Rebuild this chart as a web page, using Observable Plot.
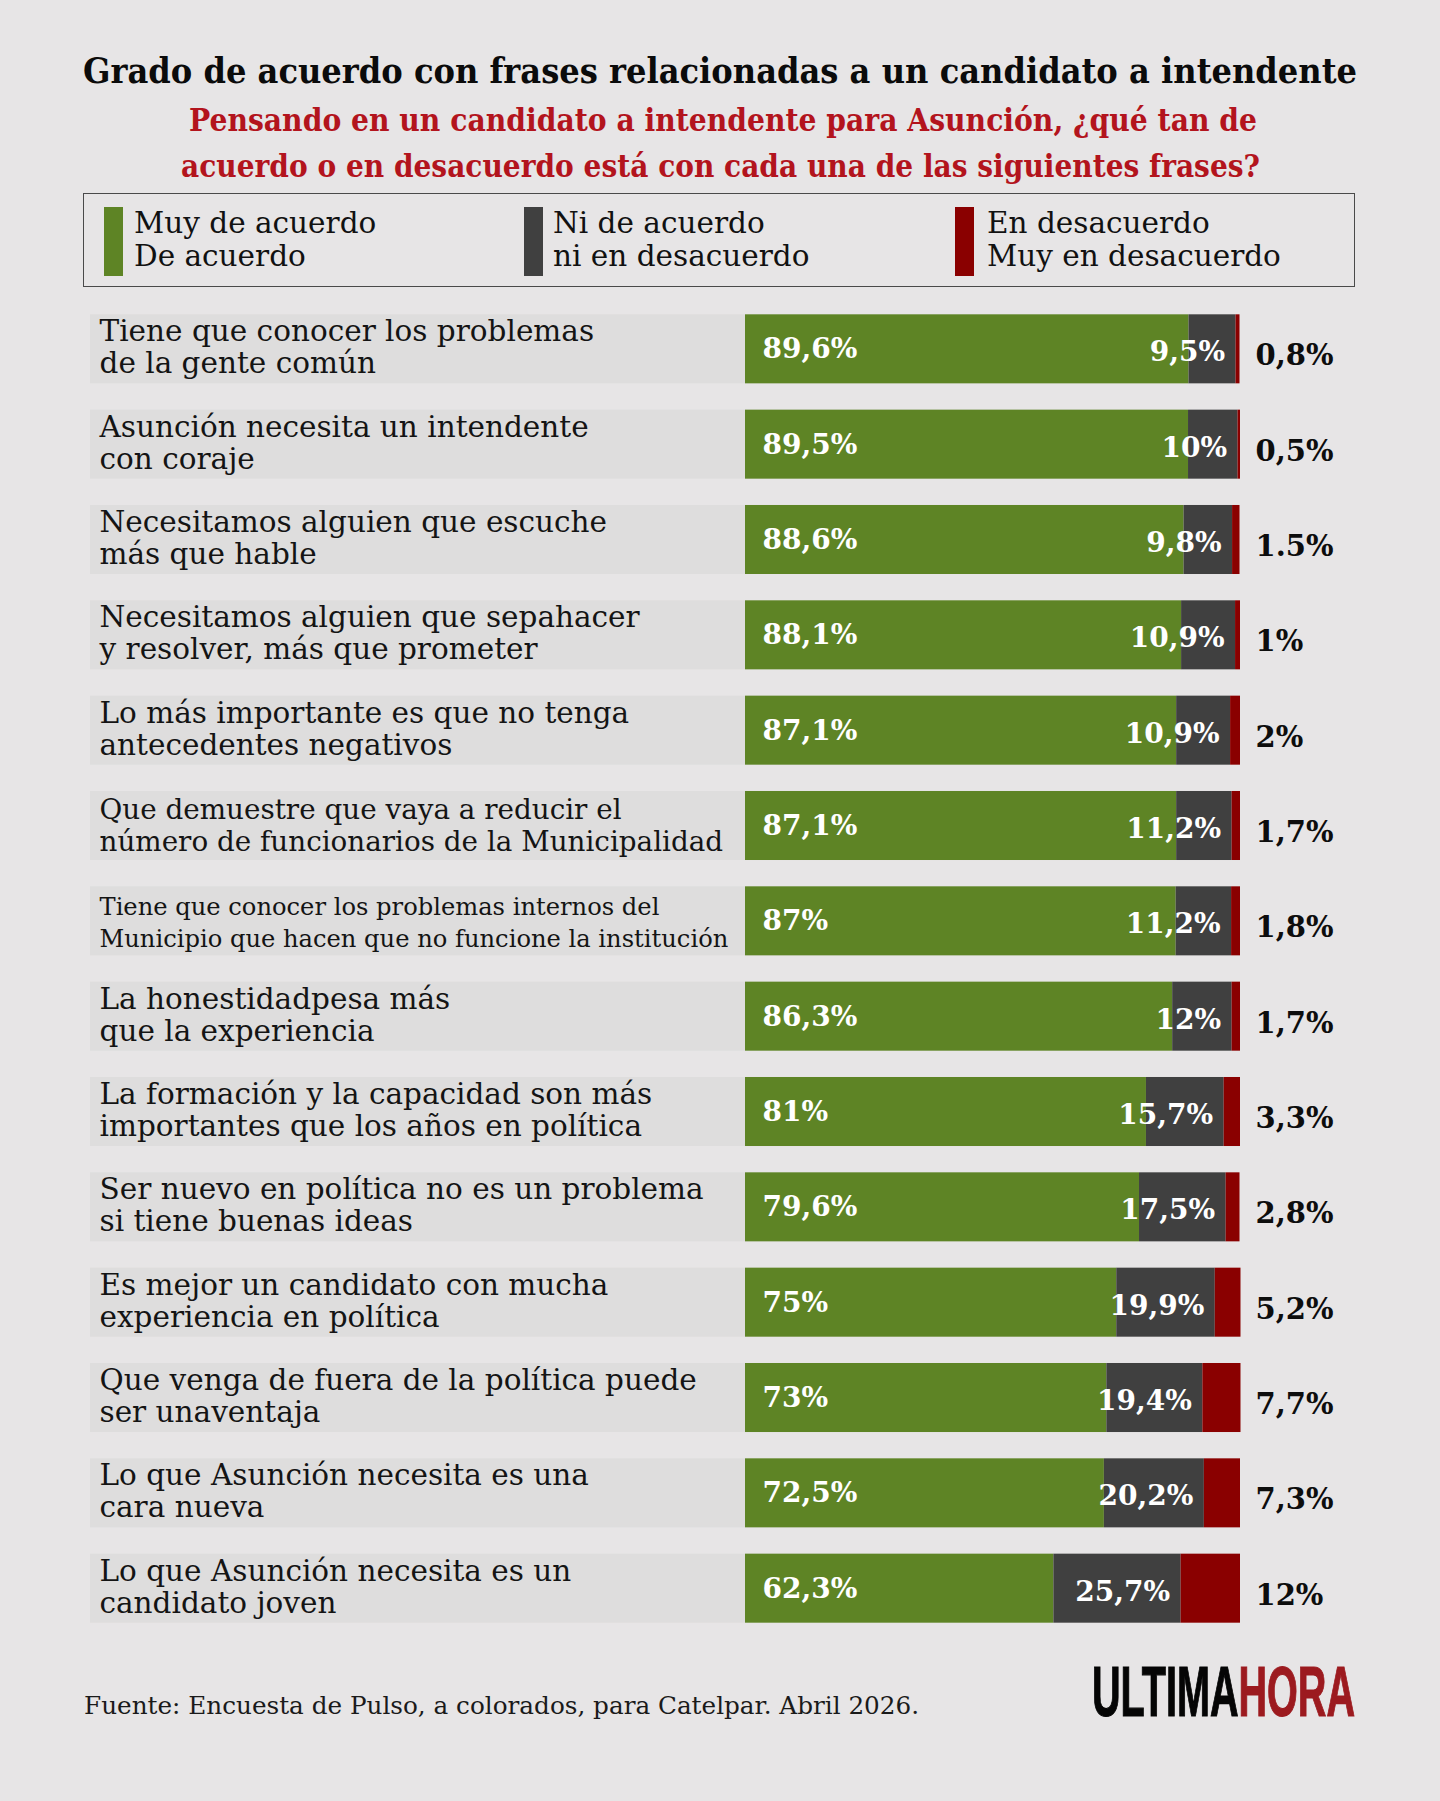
<!DOCTYPE html>
<html lang="es">
<head>
<meta charset="utf-8">
<title>Grado de acuerdo con frases relacionadas a un candidato a intendente</title>
<script src="https://cdn.jsdelivr.net/npm/d3@7"></script>
<script src="https://cdn.jsdelivr.net/npm/@observablehq/plot@0.6"></script>
<style>
  html, body { margin: 0; padding: 0; background: #e7e5e6; }
  #lienzo { position: relative; width: 1440px; height: 1801px; overflow: hidden;
            font-family: "DejaVu Serif", serif; color: #111; }
  .abs { position: absolute; white-space: nowrap; transform-origin: 0 0; }
  .titulo { font-weight: bold; font-size: 36px; line-height: 36px; color: #0b0b0b; }
  .subtitulo { font-weight: bold; font-size: 31.5px; line-height: 31.5px; color: #b3141d; }
  .leyenda-caja { position: absolute; left: 83px; top: 193px; width: 1272px; height: 94px;
                  box-sizing: border-box; border: 1.6px solid #4a4a4a; }
  .swatch { position: absolute; top: 207px; width: 19px; height: 69px; }
  .leyenda-texto { position: absolute; top: 207.4px; font-size: 29.5px; line-height: 32.7px; white-space: pre; color: #111; }
  .fuente { font-size: 24.7px; line-height: 24.7px; color: #1a1a1a; }
  .logo { font-family: "Liberation Sans Narrow", "Liberation Sans", Arial, sans-serif; font-weight: bold;
          font-size: 70px; line-height: 70px; -webkit-text-stroke: 1.2px currentColor; }
  #grafico { position: absolute; left: 0; top: 288px; }
</style>
</head>
<body>
<div id="lienzo">
  <span class="abs titulo" id="titulo" style="left:83px; top:51.5px;">Grado de acuerdo con frases relacionadas a un candidato a intendente</span>
  <span class="abs subtitulo" id="sub1" style="left:189px; top:104.4px;">Pensando en un candidato a intendente para Asunción, ¿qué tan de</span>
  <span class="abs subtitulo" id="sub2" style="left:181px; top:150.4px;">acuerdo o en desacuerdo está con cada una de las siguientes frases?</span>
  <div class="leyenda-caja"></div>
  <div id="leyenda"></div>
  <div id="grafico"></div>
  <span class="abs fuente" style="left:84px; top:1694.4px;">Fuente: Encuesta de Pulso, a colorados, para Catelpar. Abril 2026.</span>
  <span class="abs logo" id="logo" style="left:1092px; top:1656.7px;"><span style="color:#050505">ULTIMA</span><span style="color:#9c1a1f">HORA</span></span>
</div>
<script>
// Frases evaluadas (en orden de mayor a menor acuerdo)
const frases = [
  "Tiene que conocer los problemas\nde la gente común",
  "Asunción necesita un intendente\ncon coraje",
  "Necesitamos alguien que escuche\nmás que hable",
  "Necesitamos alguien que sepahacer\ny resolver, más que prometer",
  "Lo más importante es que no tenga\nantecedentes negativos",
  "Que demuestre que vaya a reducir el\nnúmero de funcionarios de la Municipalidad",
  "Tiene que conocer los problemas internos del\nMunicipio que hacen que no funcione la institución",
  "La honestidadpesa más\nque la experiencia",
  "La formación y la capacidad son más\nimportantes que los años en política",
  "Ser nuevo en política no es un problema\nsi tiene buenas ideas",
  "Es mejor un candidato con mucha\nexperiencia en política",
  "Que venga de fuera de la política puede\nser unaventaja",
  "Lo que Asunción necesita es una\ncara nueva",
  "Lo que Asunción necesita es un\ncandidato joven"
];

// Porcentajes tal como se publican
const deAcuerdo    = ["89,6", "89,5", "88,6", "88,1", "87,1", "87,1", "87", "86,3", "81", "79,6", "75", "73", "72,5", "62,3"];
const neutral      = ["9,5", "10", "9,8", "10,9", "10,9", "11,2", "11,2", "12", "15,7", "17,5", "19,9", "19,4", "20,2", "25,7"];
const enDesacuerdo = ["0,8", "0,5", "1.5", "1", "2", "1,7", "1,8", "1,7", "3,3", "2,8", "5,2", "7,7", "7,3", "12"];

// Categorías de respuesta
const categorias = ["Muy de acuerdo\nDe acuerdo", "Ni de acuerdo\nni en desacuerdo", "En desacuerdo\nMuy en desacuerdo"];

// Estilo
const colores = ["#5e8425", "#404040", "#8a0000"];
const fondoEtiqueta = "#dedddd";
const frasesCompactas = new Map([[frases[5], {size: 27.8, lh: 1.16}], [frases[6], {size: 24.2, lh: 1.3}]]);

const num = s => +s.replace(",", ".");

const filas = frases.map((frase, i) => ({
  frase,
  acuerdo: num(deAcuerdo[i]),
  neutral: num(neutral[i]),
  desacuerdo: num(enDesacuerdo[i]),
  tA: deAcuerdo[i] + "%",
  tN: neutral[i] + "%",
  tD: enDesacuerdo[i] + "%"
}));

const largo = filas.flatMap(d => [
  {frase: d.frase, categoria: categorias[0], valor: d.acuerdo},
  {frase: d.frase, categoria: categorias[1], valor: d.neutral},
  {frase: d.frase, categoria: categorias[2], valor: d.desacuerdo}
]);

// Leyenda
const leyenda = document.getElementById("leyenda");
const posLeyenda = [{sw: 104, tx: 134}, {sw: 524, tx: 553}, {sw: 955, tx: 987}];
categorias.forEach((c, i) => {
  const sw = document.createElement("div");
  sw.className = "swatch";
  sw.style.left = posLeyenda[i].sw + "px";
  sw.style.background = colores[i];
  leyenda.appendChild(sw);
  const tx = document.createElement("div");
  tx.className = "leyenda-texto";
  tx.style.left = posLeyenda[i].tx + "px";
  tx.textContent = c;
  leyenda.appendChild(tx);
});

const normales = filas.filter(d => !frasesCompactas.has(d.frase));
const compactas = filas.filter(d => frasesCompactas.has(d.frase));

const grafico = Plot.plot({
  width: 1440,
  height: 1361,
  marginLeft: 745,
  marginRight: 200,
  marginTop: 0,
  marginBottom: 0,
  style: {background: "transparent", fontFamily: "DejaVu Serif, serif", overflow: "visible"},
  x: {domain: [0, 100], axis: null},
  y: {domain: frases, axis: null, padding: 0.276, round: false},
  color: {domain: categorias, range: colores},
  marks: [
    // franja gris detrás de cada frase
    Plot.barX(filas, {y: "frase", x1: 0, x2: 0, insetLeft: -655, fill: fondoEtiqueta}),
    // barras apiladas
    Plot.barX(largo, {y: "frase", x: "valor", fill: "categoria"}),
    // frases
    Plot.text(normales, {
      y: "frase", text: "frase", frameAnchor: "left", dx: -646, dy: 24,
      textAnchor: "start", lineAnchor: "bottom", lineHeight: 1.085,
      fontSize: 29.5, fill: "#141414"
    }),
    ...compactas.map(d => Plot.text([d], {
      y: "frase", text: "frase", frameAnchor: "left", dx: -646, dy: 25.5,
      textAnchor: "start", lineAnchor: "bottom", lineHeight: frasesCompactas.get(d.frase).lh,
      fontSize: frasesCompactas.get(d.frase).size, fill: "#141414"
    })),
    // valores de acuerdo
    Plot.text(filas, {
      y: "frase", x: 0, text: "tA", dx: 17, dy: 9,
      textAnchor: "start", lineAnchor: "bottom",
      fontSize: 28, fontWeight: "bold", fill: "white"
    }),
    // valores neutrales
    Plot.text(filas, {
      y: "frase", x: d => d.acuerdo + d.neutral, text: "tN", dx: -11, dy: 12,
      textAnchor: "end", lineAnchor: "bottom",
      fontSize: 28, fontWeight: "bold", fill: "white"
    }),
    // valores de desacuerdo
    Plot.text(filas, {
      y: "frase", text: "tD", frameAnchor: "right", dx: 15, dy: 16,
      textAnchor: "start", lineAnchor: "bottom",
      fontSize: 29, fontWeight: "bold", fill: "#0d0d0d"
    })
  ]
});
document.getElementById("grafico").appendChild(grafico);

// Ajusta el ancho de los textos de cabecera y del logo
function ajustarAncho(id, ancho) {
  const el = document.getElementById(id);
  el.style.transform = "none";
  const w = el.getBoundingClientRect().width;
  if (w > 0) el.style.transform = `scaleX(${ancho / w})`;
}
function ajustarTodo() {
  ajustarAncho("titulo", 1274);
  ajustarAncho("sub1", 1068);
  ajustarAncho("sub2", 1079);
  ajustarAncho("logo", 263);
}
ajustarTodo();
if (document.fonts && document.fonts.ready) document.fonts.ready.then(ajustarTodo);
</script>
</body>
</html>
